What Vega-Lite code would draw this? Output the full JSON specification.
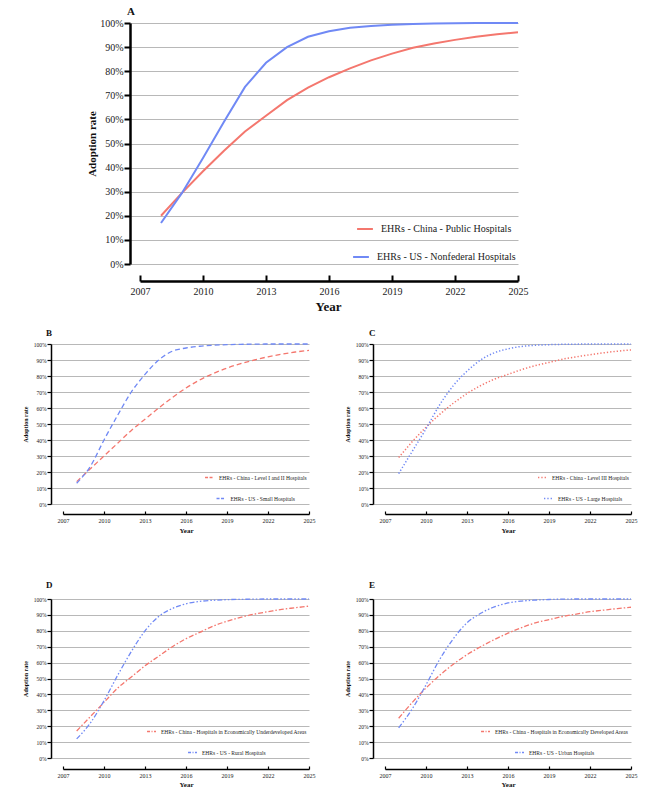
{
  "$schema": "https://vega.github.io/schema/vega-lite/v6.json",
  "padding": {"left": 21, "top": 6, "right": 5, "bottom": 5},
  "autosize": {"type": "pad"},
  "config": {
    "view": {"stroke": null},
    "style": {"guide-label": {"font": "Liberation Serif"}, "guide-title": {"font": "Liberation Serif"}, "group-title": {"font": "Liberation Serif"}},
    "axis": {"labelFont": "Liberation Serif", "titleFont": "Liberation Serif", "labelColor": "#222", "titleColor": "#111", "labelOverlap": false, "labelFlush": false, "domainColor": "#000", "tickColor": "#000", "gridColor": "#b8b8b8", "gridWidth": 1},
    "legend": {"labelFont": "Liberation Serif", "labelColor": "#222", "layout": {"bottom-right": {"direction": "vertical", "anchor": "end", "center": true, "margin": 10}}},
    "title": {"font": "Liberation Serif", "color": "#111"}
  },
  "datasets": {
    "a_cn": [
      {"series": "EHRs - China - Public Hospitals", "year": 2008, "rate": 0.20},
      {"series": "EHRs - China - Public Hospitals", "year": 2009, "rate": 0.295},
      {"series": "EHRs - China - Public Hospitals", "year": 2010, "rate": 0.385},
      {"series": "EHRs - China - Public Hospitals", "year": 2011, "rate": 0.47},
      {"series": "EHRs - China - Public Hospitals", "year": 2012, "rate": 0.55},
      {"series": "EHRs - China - Public Hospitals", "year": 2013, "rate": 0.615},
      {"series": "EHRs - China - Public Hospitals", "year": 2014, "rate": 0.68},
      {"series": "EHRs - China - Public Hospitals", "year": 2015, "rate": 0.732},
      {"series": "EHRs - China - Public Hospitals", "year": 2016, "rate": 0.775},
      {"series": "EHRs - China - Public Hospitals", "year": 2017, "rate": 0.812},
      {"series": "EHRs - China - Public Hospitals", "year": 2018, "rate": 0.845},
      {"series": "EHRs - China - Public Hospitals", "year": 2019, "rate": 0.873},
      {"series": "EHRs - China - Public Hospitals", "year": 2020, "rate": 0.897},
      {"series": "EHRs - China - Public Hospitals", "year": 2021, "rate": 0.915},
      {"series": "EHRs - China - Public Hospitals", "year": 2022, "rate": 0.93},
      {"series": "EHRs - China - Public Hospitals", "year": 2023, "rate": 0.943},
      {"series": "EHRs - China - Public Hospitals", "year": 2024, "rate": 0.953},
      {"series": "EHRs - China - Public Hospitals", "year": 2025, "rate": 0.962}
    ],
    "a_us": [
      {"series": "EHRs - US - Nonfederal Hospitals", "year": 2008, "rate": 0.17},
      {"series": "EHRs - US - Nonfederal Hospitals", "year": 2009, "rate": 0.295},
      {"series": "EHRs - US - Nonfederal Hospitals", "year": 2010, "rate": 0.44},
      {"series": "EHRs - US - Nonfederal Hospitals", "year": 2011, "rate": 0.59},
      {"series": "EHRs - US - Nonfederal Hospitals", "year": 2012, "rate": 0.735},
      {"series": "EHRs - US - Nonfederal Hospitals", "year": 2013, "rate": 0.835},
      {"series": "EHRs - US - Nonfederal Hospitals", "year": 2014, "rate": 0.90},
      {"series": "EHRs - US - Nonfederal Hospitals", "year": 2015, "rate": 0.943},
      {"series": "EHRs - US - Nonfederal Hospitals", "year": 2016, "rate": 0.966},
      {"series": "EHRs - US - Nonfederal Hospitals", "year": 2017, "rate": 0.98},
      {"series": "EHRs - US - Nonfederal Hospitals", "year": 2018, "rate": 0.988},
      {"series": "EHRs - US - Nonfederal Hospitals", "year": 2019, "rate": 0.993},
      {"series": "EHRs - US - Nonfederal Hospitals", "year": 2020, "rate": 0.996},
      {"series": "EHRs - US - Nonfederal Hospitals", "year": 2021, "rate": 0.998},
      {"series": "EHRs - US - Nonfederal Hospitals", "year": 2022, "rate": 0.999},
      {"series": "EHRs - US - Nonfederal Hospitals", "year": 2023, "rate": 1.0},
      {"series": "EHRs - US - Nonfederal Hospitals", "year": 2024, "rate": 1.0},
      {"series": "EHRs - US - Nonfederal Hospitals", "year": 2025, "rate": 1.0}
    ],
    "b_cn": [
      {"series": "EHRs - China - Level I and II Hospitals", "year": 2008, "rate": 0.14},
      {"series": "EHRs - China - Level I and II Hospitals", "year": 2009, "rate": 0.22},
      {"series": "EHRs - China - Level I and II Hospitals", "year": 2010, "rate": 0.30},
      {"series": "EHRs - China - Level I and II Hospitals", "year": 2011, "rate": 0.38},
      {"series": "EHRs - China - Level I and II Hospitals", "year": 2012, "rate": 0.46},
      {"series": "EHRs - China - Level I and II Hospitals", "year": 2013, "rate": 0.53},
      {"series": "EHRs - China - Level I and II Hospitals", "year": 2014, "rate": 0.60},
      {"series": "EHRs - China - Level I and II Hospitals", "year": 2015, "rate": 0.665},
      {"series": "EHRs - China - Level I and II Hospitals", "year": 2016, "rate": 0.725},
      {"series": "EHRs - China - Level I and II Hospitals", "year": 2017, "rate": 0.775},
      {"series": "EHRs - China - Level I and II Hospitals", "year": 2018, "rate": 0.815},
      {"series": "EHRs - China - Level I and II Hospitals", "year": 2019, "rate": 0.85},
      {"series": "EHRs - China - Level I and II Hospitals", "year": 2020, "rate": 0.877},
      {"series": "EHRs - China - Level I and II Hospitals", "year": 2021, "rate": 0.90},
      {"series": "EHRs - China - Level I and II Hospitals", "year": 2022, "rate": 0.92},
      {"series": "EHRs - China - Level I and II Hospitals", "year": 2023, "rate": 0.936},
      {"series": "EHRs - China - Level I and II Hospitals", "year": 2024, "rate": 0.95},
      {"series": "EHRs - China - Level I and II Hospitals", "year": 2025, "rate": 0.96}
    ],
    "b_us": [
      {"series": "EHRs - US - Small Hospitals", "year": 2008, "rate": 0.13},
      {"series": "EHRs - US - Small Hospitals", "year": 2009, "rate": 0.235},
      {"series": "EHRs - US - Small Hospitals", "year": 2010, "rate": 0.40},
      {"series": "EHRs - US - Small Hospitals", "year": 2011, "rate": 0.555},
      {"series": "EHRs - US - Small Hospitals", "year": 2012, "rate": 0.70},
      {"series": "EHRs - US - Small Hospitals", "year": 2013, "rate": 0.81},
      {"series": "EHRs - US - Small Hospitals", "year": 2014, "rate": 0.90},
      {"series": "EHRs - US - Small Hospitals", "year": 2015, "rate": 0.955},
      {"series": "EHRs - US - Small Hospitals", "year": 2016, "rate": 0.975},
      {"series": "EHRs - US - Small Hospitals", "year": 2017, "rate": 0.986},
      {"series": "EHRs - US - Small Hospitals", "year": 2018, "rate": 0.992},
      {"series": "EHRs - US - Small Hospitals", "year": 2019, "rate": 0.996},
      {"series": "EHRs - US - Small Hospitals", "year": 2020, "rate": 0.998},
      {"series": "EHRs - US - Small Hospitals", "year": 2021, "rate": 0.999},
      {"series": "EHRs - US - Small Hospitals", "year": 2022, "rate": 1.0},
      {"series": "EHRs - US - Small Hospitals", "year": 2023, "rate": 1.0},
      {"series": "EHRs - US - Small Hospitals", "year": 2024, "rate": 1.0},
      {"series": "EHRs - US - Small Hospitals", "year": 2025, "rate": 1.0}
    ],
    "c_cn": [
      {"series": "EHRs - China - Level III Hospitals", "year": 2008, "rate": 0.29},
      {"series": "EHRs - China - Level III Hospitals", "year": 2009, "rate": 0.39},
      {"series": "EHRs - China - Level III Hospitals", "year": 2010, "rate": 0.48},
      {"series": "EHRs - China - Level III Hospitals", "year": 2011, "rate": 0.56},
      {"series": "EHRs - China - Level III Hospitals", "year": 2012, "rate": 0.63},
      {"series": "EHRs - China - Level III Hospitals", "year": 2013, "rate": 0.69},
      {"series": "EHRs - China - Level III Hospitals", "year": 2014, "rate": 0.74},
      {"series": "EHRs - China - Level III Hospitals", "year": 2015, "rate": 0.78},
      {"series": "EHRs - China - Level III Hospitals", "year": 2016, "rate": 0.81},
      {"series": "EHRs - China - Level III Hospitals", "year": 2017, "rate": 0.84},
      {"series": "EHRs - China - Level III Hospitals", "year": 2018, "rate": 0.865},
      {"series": "EHRs - China - Level III Hospitals", "year": 2019, "rate": 0.885},
      {"series": "EHRs - China - Level III Hospitals", "year": 2020, "rate": 0.905},
      {"series": "EHRs - China - Level III Hospitals", "year": 2021, "rate": 0.92},
      {"series": "EHRs - China - Level III Hospitals", "year": 2022, "rate": 0.933},
      {"series": "EHRs - China - Level III Hospitals", "year": 2023, "rate": 0.945},
      {"series": "EHRs - China - Level III Hospitals", "year": 2024, "rate": 0.955},
      {"series": "EHRs - China - Level III Hospitals", "year": 2025, "rate": 0.963}
    ],
    "c_us": [
      {"series": "EHRs - US - Large Hospitals", "year": 2008, "rate": 0.19},
      {"series": "EHRs - US - Large Hospitals", "year": 2009, "rate": 0.33},
      {"series": "EHRs - US - Large Hospitals", "year": 2010, "rate": 0.47},
      {"series": "EHRs - US - Large Hospitals", "year": 2011, "rate": 0.62},
      {"series": "EHRs - US - Large Hospitals", "year": 2012, "rate": 0.74},
      {"series": "EHRs - US - Large Hospitals", "year": 2013, "rate": 0.83},
      {"series": "EHRs - US - Large Hospitals", "year": 2014, "rate": 0.90},
      {"series": "EHRs - US - Large Hospitals", "year": 2015, "rate": 0.945},
      {"series": "EHRs - US - Large Hospitals", "year": 2016, "rate": 0.97},
      {"series": "EHRs - US - Large Hospitals", "year": 2017, "rate": 0.985},
      {"series": "EHRs - US - Large Hospitals", "year": 2018, "rate": 0.992},
      {"series": "EHRs - US - Large Hospitals", "year": 2019, "rate": 0.996},
      {"series": "EHRs - US - Large Hospitals", "year": 2020, "rate": 0.998},
      {"series": "EHRs - US - Large Hospitals", "year": 2021, "rate": 0.999},
      {"series": "EHRs - US - Large Hospitals", "year": 2022, "rate": 1.0},
      {"series": "EHRs - US - Large Hospitals", "year": 2023, "rate": 1.0},
      {"series": "EHRs - US - Large Hospitals", "year": 2024, "rate": 1.0},
      {"series": "EHRs - US - Large Hospitals", "year": 2025, "rate": 1.0}
    ],
    "d_cn": [
      {"series": "EHRs - China - Hospitals in Economically Underdeveloped Areas", "year": 2008, "rate": 0.17},
      {"series": "EHRs - China - Hospitals in Economically Underdeveloped Areas", "year": 2009, "rate": 0.26},
      {"series": "EHRs - China - Hospitals in Economically Underdeveloped Areas", "year": 2010, "rate": 0.35},
      {"series": "EHRs - China - Hospitals in Economically Underdeveloped Areas", "year": 2011, "rate": 0.44},
      {"series": "EHRs - China - Hospitals in Economically Underdeveloped Areas", "year": 2012, "rate": 0.51},
      {"series": "EHRs - China - Hospitals in Economically Underdeveloped Areas", "year": 2013, "rate": 0.58},
      {"series": "EHRs - China - Hospitals in Economically Underdeveloped Areas", "year": 2014, "rate": 0.64},
      {"series": "EHRs - China - Hospitals in Economically Underdeveloped Areas", "year": 2015, "rate": 0.70},
      {"series": "EHRs - China - Hospitals in Economically Underdeveloped Areas", "year": 2016, "rate": 0.75},
      {"series": "EHRs - China - Hospitals in Economically Underdeveloped Areas", "year": 2017, "rate": 0.79},
      {"series": "EHRs - China - Hospitals in Economically Underdeveloped Areas", "year": 2018, "rate": 0.83},
      {"series": "EHRs - China - Hospitals in Economically Underdeveloped Areas", "year": 2019, "rate": 0.86},
      {"series": "EHRs - China - Hospitals in Economically Underdeveloped Areas", "year": 2020, "rate": 0.885},
      {"series": "EHRs - China - Hospitals in Economically Underdeveloped Areas", "year": 2021, "rate": 0.905},
      {"series": "EHRs - China - Hospitals in Economically Underdeveloped Areas", "year": 2022, "rate": 0.92},
      {"series": "EHRs - China - Hospitals in Economically Underdeveloped Areas", "year": 2023, "rate": 0.935},
      {"series": "EHRs - China - Hospitals in Economically Underdeveloped Areas", "year": 2024, "rate": 0.945},
      {"series": "EHRs - China - Hospitals in Economically Underdeveloped Areas", "year": 2025, "rate": 0.955}
    ],
    "d_us": [
      {"series": "EHRs - US - Rural Hospitals", "year": 2008, "rate": 0.12},
      {"series": "EHRs - US - Rural Hospitals", "year": 2009, "rate": 0.22},
      {"series": "EHRs - US - Rural Hospitals", "year": 2010, "rate": 0.36},
      {"series": "EHRs - US - Rural Hospitals", "year": 2011, "rate": 0.52},
      {"series": "EHRs - US - Rural Hospitals", "year": 2012, "rate": 0.67},
      {"series": "EHRs - US - Rural Hospitals", "year": 2013, "rate": 0.80},
      {"series": "EHRs - US - Rural Hospitals", "year": 2014, "rate": 0.89},
      {"series": "EHRs - US - Rural Hospitals", "year": 2015, "rate": 0.94},
      {"series": "EHRs - US - Rural Hospitals", "year": 2016, "rate": 0.97},
      {"series": "EHRs - US - Rural Hospitals", "year": 2017, "rate": 0.985},
      {"series": "EHRs - US - Rural Hospitals", "year": 2018, "rate": 0.992},
      {"series": "EHRs - US - Rural Hospitals", "year": 2019, "rate": 0.996},
      {"series": "EHRs - US - Rural Hospitals", "year": 2020, "rate": 0.998},
      {"series": "EHRs - US - Rural Hospitals", "year": 2021, "rate": 0.999},
      {"series": "EHRs - US - Rural Hospitals", "year": 2022, "rate": 1.0},
      {"series": "EHRs - US - Rural Hospitals", "year": 2023, "rate": 1.0},
      {"series": "EHRs - US - Rural Hospitals", "year": 2024, "rate": 1.0},
      {"series": "EHRs - US - Rural Hospitals", "year": 2025, "rate": 1.0}
    ],
    "e_cn": [
      {"series": "EHRs - China - Hospitals in Economically Developed Areas", "year": 2008, "rate": 0.25},
      {"series": "EHRs - China - Hospitals in Economically Developed Areas", "year": 2009, "rate": 0.35},
      {"series": "EHRs - China - Hospitals in Economically Developed Areas", "year": 2010, "rate": 0.44},
      {"series": "EHRs - China - Hospitals in Economically Developed Areas", "year": 2011, "rate": 0.52},
      {"series": "EHRs - China - Hospitals in Economically Developed Areas", "year": 2012, "rate": 0.59},
      {"series": "EHRs - China - Hospitals in Economically Developed Areas", "year": 2013, "rate": 0.65},
      {"series": "EHRs - China - Hospitals in Economically Developed Areas", "year": 2014, "rate": 0.70},
      {"series": "EHRs - China - Hospitals in Economically Developed Areas", "year": 2015, "rate": 0.745},
      {"series": "EHRs - China - Hospitals in Economically Developed Areas", "year": 2016, "rate": 0.785},
      {"series": "EHRs - China - Hospitals in Economically Developed Areas", "year": 2017, "rate": 0.82},
      {"series": "EHRs - China - Hospitals in Economically Developed Areas", "year": 2018, "rate": 0.85},
      {"series": "EHRs - China - Hospitals in Economically Developed Areas", "year": 2019, "rate": 0.87},
      {"series": "EHRs - China - Hospitals in Economically Developed Areas", "year": 2020, "rate": 0.89},
      {"series": "EHRs - China - Hospitals in Economically Developed Areas", "year": 2021, "rate": 0.905},
      {"series": "EHRs - China - Hospitals in Economically Developed Areas", "year": 2022, "rate": 0.92},
      {"series": "EHRs - China - Hospitals in Economically Developed Areas", "year": 2023, "rate": 0.93},
      {"series": "EHRs - China - Hospitals in Economically Developed Areas", "year": 2024, "rate": 0.94},
      {"series": "EHRs - China - Hospitals in Economically Developed Areas", "year": 2025, "rate": 0.948}
    ],
    "e_us": [
      {"series": "EHRs - US - Urban Hospitals", "year": 2008, "rate": 0.19},
      {"series": "EHRs - US - Urban Hospitals", "year": 2009, "rate": 0.31},
      {"series": "EHRs - US - Urban Hospitals", "year": 2010, "rate": 0.46},
      {"series": "EHRs - US - Urban Hospitals", "year": 2011, "rate": 0.62},
      {"series": "EHRs - US - Urban Hospitals", "year": 2012, "rate": 0.75},
      {"series": "EHRs - US - Urban Hospitals", "year": 2013, "rate": 0.85},
      {"series": "EHRs - US - Urban Hospitals", "year": 2014, "rate": 0.91},
      {"series": "EHRs - US - Urban Hospitals", "year": 2015, "rate": 0.95},
      {"series": "EHRs - US - Urban Hospitals", "year": 2016, "rate": 0.975},
      {"series": "EHRs - US - Urban Hospitals", "year": 2017, "rate": 0.987},
      {"series": "EHRs - US - Urban Hospitals", "year": 2018, "rate": 0.993},
      {"series": "EHRs - US - Urban Hospitals", "year": 2019, "rate": 0.997},
      {"series": "EHRs - US - Urban Hospitals", "year": 2020, "rate": 0.999},
      {"series": "EHRs - US - Urban Hospitals", "year": 2021, "rate": 1.0},
      {"series": "EHRs - US - Urban Hospitals", "year": 2022, "rate": 1.0},
      {"series": "EHRs - US - Urban Hospitals", "year": 2023, "rate": 1.0},
      {"series": "EHRs - US - Urban Hospitals", "year": 2024, "rate": 1.0},
      {"series": "EHRs - US - Urban Hospitals", "year": 2025, "rate": 1.0}
    ]
  },
  "columns": 1,
  "align": "none",
  "spacing": 15,
  "concat": [
    {
      "width": 467, "height": 241,
      "title": {"text": "A", "anchor": "start", "frame": "group", "offset": -10, "dx": 76, "fontSize": 11, "fontWeight": "bold", "baseline": "bottom", "font": "Liberation Serif"},
      "layer": [
        {"data": {"name": "a_cn"}, "mark": {"type": "line", "strokeWidth": 2},
          "encoding": {
            "x": {"field": "year", "type": "quantitative", "scale": {"domain": [2006.5238, 2025], "range": [79, 467], "nice": false, "zero": false}, "axis": null},
            "y": {"field": "rate", "type": "quantitative", "scale": {"domain": [0, 1], "nice": false},
              "axis": {"values": [0, 0.1, 0.2, 0.3, 0.4, 0.5, 0.6, 0.7, 0.8, 0.9, 1], "format": "%", "grid": true, "offset": -79, "domainWidth": 2.5, "tickWidth": 2, "tickSize": 6, "labelPadding": 1, "labelFontSize": 10, "labelFont": "Liberation Serif", "title": "Adoption rate", "titleFont": "Liberation Serif", "titleFontSize": 11, "titleFontWeight": "bold", "titleX": -33, "titleY": 120.5, "titleAngle": 270, "titleAlign": "center", "titleBaseline": "bottom"}},
            "color": {"field": "series", "type": "nominal", "scale": {"range": ["#F4776E"]},
              "legend": {"orient": "bottom-right", "title": null, "offset": 0, "padding": 2, "symbolType": "stroke", "symbolSize": 250, "symbolStrokeWidth": 2, "labelFont": "Liberation Serif", "labelFontSize": 10, "labelOffset": 7}}
          }},
        {"data": {"name": "a_us"}, "mark": {"type": "line", "strokeWidth": 2},
          "encoding": {
            "x": {"field": "year", "type": "quantitative", "scale": {"domain": [2007, 2025], "range": [89, 467], "nice": false, "zero": false},
              "axis": {"orient": "bottom", "values": [2007, 2010, 2013, 2016, 2019, 2022, 2025], "format": "d", "grid": false, "offset": 17, "domainWidth": 2.5, "tickWidth": 2, "tickSize": -6, "labelPadding": 11, "labelFontSize": 10, "labelFont": "Liberation Serif", "title": "Year", "titleFont": "Liberation Serif", "titleFontSize": 13, "titleFontWeight": "bold", "titleX": 277, "titleY": 19, "titleBaseline": "top", "titleAlign": "center"}},
            "y": {"field": "rate", "type": "quantitative", "scale": {"domain": [0, 1], "nice": false}, "axis": null},
            "color": {"field": "series", "type": "nominal", "scale": {"range": ["#7089F5"]},
              "legend": {"orient": "bottom-right", "title": null, "offset": 0, "padding": 2, "symbolType": "stroke", "symbolSize": 250, "symbolStrokeWidth": 2, "labelFont": "Liberation Serif", "labelFontSize": 10, "labelOffset": 7}}
          }}
      ],
      "resolve": {"scale": {"x": "independent", "y": "independent", "color": "independent"}, "axis": {"x": "independent", "y": "independent"}}
    },
    {
      "spacing": 28,
      "hconcat": [
        {
          "width": 258, "height": 160,
          "title": {"text": "B", "anchor": "start", "frame": "group", "offset": -5.5, "dx": -5, "fontSize": 9, "fontWeight": "bold", "baseline": "bottom", "font": "Liberation Serif"},
          "layer": [
            {"data": {"name": "b_cn"}, "mark": {"type": "line", "strokeWidth": 1.3, "strokeDash": [5, 3], "interpolate": "monotone"},
              "encoding": {
                "x": {"field": "year", "type": "quantitative", "scale": {"domain": [2006.122, 2025], "range": [0, 258], "nice": false, "zero": false}, "axis": null},
                "y": {"field": "rate", "type": "quantitative", "scale": {"domain": [0, 1], "nice": false},
                  "axis": {"values": [0, 0.1, 0.2, 0.3, 0.4, 0.5, 0.6, 0.7, 0.8, 0.9, 1], "format": "%", "grid": true, "domainWidth": 1.5, "tickWidth": 1.2, "tickSize": 4, "labelPadding": 1, "labelFontSize": 5.5, "labelFont": "Liberation Serif", "title": "Adoption rate", "titleFont": "Liberation Serif", "titleFontSize": 6, "titleFontWeight": "bold", "titleX": -23, "titleY": 80, "titleAngle": 270, "titleAlign": "center", "titleBaseline": "bottom", "minExtent": 30}},
                "color": {"field": "series", "type": "nominal", "scale": {"range": ["#F4776E"]},
                  "legend": {"orient": "bottom-right", "title": null, "offset": 1.5, "padding": 1, "symbolType": "stroke", "symbolSize": 80, "symbolStrokeWidth": 1.3, "symbolDash": [3, 1.5], "labelFont": "Liberation Serif", "labelFontSize": 5.5, "labelOffset": 4}}
              }},
            {"data": {"name": "b_us"}, "mark": {"type": "line", "strokeWidth": 1.3, "strokeDash": [5, 3], "interpolate": "monotone"},
              "encoding": {
                "x": {"field": "year", "type": "quantitative", "scale": {"domain": [2007, 2025], "range": [12, 258], "nice": false, "zero": false},
                  "axis": {"orient": "bottom", "values": [2007, 2010, 2013, 2016, 2019, 2022, 2025], "format": "d", "grid": false, "offset": 10, "domainWidth": 1.5, "tickWidth": 1.2, "tickSize": -3, "labelPadding": 6, "labelFontSize": 6, "labelFont": "Liberation Serif", "title": "Year", "titleFont": "Liberation Serif", "titleFontSize": 7, "titleFontWeight": "bold", "titleX": 135, "titleY": 12.5, "titleBaseline": "top", "titleAlign": "center", "minExtent": 52}},
                "y": {"field": "rate", "type": "quantitative", "scale": {"domain": [0, 1], "nice": false}, "axis": null},
                "color": {"field": "series", "type": "nominal", "scale": {"range": ["#7089F5"]},
                  "legend": {"orient": "bottom-right", "title": null, "offset": 1.5, "padding": 1, "symbolType": "stroke", "symbolSize": 80, "symbolStrokeWidth": 1.3, "symbolDash": [3, 1.5], "labelFont": "Liberation Serif", "labelFontSize": 5.5, "labelOffset": 4}}
              }}
          ],
          "resolve": {"scale": {"x": "independent", "y": "independent", "color": "independent"}, "axis": {"x": "independent", "y": "independent"}}
        },
        {
          "width": 258, "height": 160,
          "title": {"text": "C", "anchor": "start", "frame": "group", "offset": -5.5, "dx": -4, "fontSize": 9, "fontWeight": "bold", "baseline": "bottom", "font": "Liberation Serif"},
          "layer": [
            {"data": {"name": "c_cn"}, "mark": {"type": "line", "strokeWidth": 1.5, "strokeDash": [1.3, 2], "interpolate": "monotone"},
              "encoding": {
                "x": {"field": "year", "type": "quantitative", "scale": {"domain": [2006.122, 2025], "range": [0, 258], "nice": false, "zero": false}, "axis": null},
                "y": {"field": "rate", "type": "quantitative", "scale": {"domain": [0, 1], "nice": false},
                  "axis": {"values": [0, 0.1, 0.2, 0.3, 0.4, 0.5, 0.6, 0.7, 0.8, 0.9, 1], "format": "%", "grid": true, "domainWidth": 1.5, "tickWidth": 1.2, "tickSize": 4, "labelPadding": 1, "labelFontSize": 5.5, "labelFont": "Liberation Serif", "title": "Adoption rate", "titleFont": "Liberation Serif", "titleFontSize": 6, "titleFontWeight": "bold", "titleX": -23, "titleY": 80, "titleAngle": 270, "titleAlign": "center", "titleBaseline": "bottom", "minExtent": 30}},
                "color": {"field": "series", "type": "nominal", "scale": {"range": ["#F4776E"]},
                  "legend": {"orient": "bottom-right", "title": null, "offset": 1.5, "padding": 1, "symbolType": "stroke", "symbolSize": 80, "symbolStrokeWidth": 1.5, "symbolDash": [1.3, 2], "labelFont": "Liberation Serif", "labelFontSize": 5.5, "labelOffset": 4}}
              }},
            {"data": {"name": "c_us"}, "mark": {"type": "line", "strokeWidth": 1.5, "strokeDash": [1.3, 2], "interpolate": "monotone"},
              "encoding": {
                "x": {"field": "year", "type": "quantitative", "scale": {"domain": [2007, 2025], "range": [12, 258], "nice": false, "zero": false},
                  "axis": {"orient": "bottom", "values": [2007, 2010, 2013, 2016, 2019, 2022, 2025], "format": "d", "grid": false, "offset": 10, "domainWidth": 1.5, "tickWidth": 1.2, "tickSize": -3, "labelPadding": 6, "labelFontSize": 6, "labelFont": "Liberation Serif", "title": "Year", "titleFont": "Liberation Serif", "titleFontSize": 7, "titleFontWeight": "bold", "titleX": 135, "titleY": 12.5, "titleBaseline": "top", "titleAlign": "center", "minExtent": 52}},
                "y": {"field": "rate", "type": "quantitative", "scale": {"domain": [0, 1], "nice": false}, "axis": null},
                "color": {"field": "series", "type": "nominal", "scale": {"range": ["#7089F5"]},
                  "legend": {"orient": "bottom-right", "title": null, "offset": 1.5, "padding": 1, "symbolType": "stroke", "symbolSize": 80, "symbolStrokeWidth": 1.5, "symbolDash": [1.3, 2], "labelFont": "Liberation Serif", "labelFontSize": 5.5, "labelOffset": 4}}
              }}
          ],
          "resolve": {"scale": {"x": "independent", "y": "independent", "color": "independent"}, "axis": {"x": "independent", "y": "independent"}}
        }
      ]
    },
    {
      "spacing": 28,
      "hconcat": [
        {
          "width": 258, "height": 159,
          "title": {"text": "D", "anchor": "start", "frame": "group", "offset": -3, "dx": -5, "fontSize": 9, "fontWeight": "bold", "baseline": "bottom", "font": "Liberation Serif"},
          "layer": [
            {"data": {"name": "d_cn"}, "mark": {"type": "line", "strokeWidth": 1.3, "strokeDash": [5, 2, 1.5, 2], "interpolate": "monotone"},
              "encoding": {
                "x": {"field": "year", "type": "quantitative", "scale": {"domain": [2006.122, 2025], "range": [0, 258], "nice": false, "zero": false}, "axis": null},
                "y": {"field": "rate", "type": "quantitative", "scale": {"domain": [0, 1], "nice": false},
                  "axis": {"values": [0, 0.1, 0.2, 0.3, 0.4, 0.5, 0.6, 0.7, 0.8, 0.9, 1], "format": "%", "grid": true, "domainWidth": 1.5, "tickWidth": 1.2, "tickSize": 4, "labelPadding": 1, "labelFontSize": 5.5, "labelFont": "Liberation Serif", "title": "Adoption rate", "titleFont": "Liberation Serif", "titleFontSize": 6, "titleFontWeight": "bold", "titleX": -23, "titleY": 79.5, "titleAngle": 270, "titleAlign": "center", "titleBaseline": "bottom", "minExtent": 30}},
                "color": {"field": "series", "type": "nominal", "scale": {"range": ["#F4776E"]},
                  "legend": {"orient": "bottom-right", "title": null, "offset": 1.5, "padding": 1, "symbolType": "stroke", "symbolSize": 80, "symbolStrokeWidth": 1.3, "symbolDash": [3, 1.5, 1, 1.5], "labelFont": "Liberation Serif", "labelFontSize": 5.5, "labelOffset": 4}}
              }},
            {"data": {"name": "d_us"}, "mark": {"type": "line", "strokeWidth": 1.3, "strokeDash": [5, 2, 1.5, 2, 1.5, 2], "interpolate": "monotone"},
              "encoding": {
                "x": {"field": "year", "type": "quantitative", "scale": {"domain": [2007, 2025], "range": [12, 258], "nice": false, "zero": false},
                  "axis": {"orient": "bottom", "values": [2007, 2010, 2013, 2016, 2019, 2022, 2025], "format": "d", "grid": false, "offset": 11, "domainWidth": 1.5, "tickWidth": 1.2, "tickSize": -3, "labelPadding": 6, "labelFontSize": 6, "labelFont": "Liberation Serif", "title": "Year", "titleFont": "Liberation Serif", "titleFontSize": 7, "titleFontWeight": "bold", "titleX": 135, "titleY": 11.5, "titleBaseline": "top", "titleAlign": "center"}},
                "y": {"field": "rate", "type": "quantitative", "scale": {"domain": [0, 1], "nice": false}, "axis": null},
                "color": {"field": "series", "type": "nominal", "scale": {"range": ["#7089F5"]},
                  "legend": {"orient": "bottom-right", "title": null, "offset": 1.5, "padding": 1, "symbolType": "stroke", "symbolSize": 80, "symbolStrokeWidth": 1.3, "symbolDash": [3, 1.5, 1, 1.5], "labelFont": "Liberation Serif", "labelFontSize": 5.5, "labelOffset": 4}}
              }}
          ],
          "resolve": {"scale": {"x": "independent", "y": "independent", "color": "independent"}, "axis": {"x": "independent", "y": "independent"}}
        },
        {
          "width": 258, "height": 159,
          "title": {"text": "E", "anchor": "start", "frame": "group", "offset": -3, "dx": -4, "fontSize": 9, "fontWeight": "bold", "baseline": "bottom", "font": "Liberation Serif"},
          "layer": [
            {"data": {"name": "e_cn"}, "mark": {"type": "line", "strokeWidth": 1.3, "strokeDash": [5, 2, 1.5, 2], "interpolate": "monotone"},
              "encoding": {
                "x": {"field": "year", "type": "quantitative", "scale": {"domain": [2006.122, 2025], "range": [0, 258], "nice": false, "zero": false}, "axis": null},
                "y": {"field": "rate", "type": "quantitative", "scale": {"domain": [0, 1], "nice": false},
                  "axis": {"values": [0, 0.1, 0.2, 0.3, 0.4, 0.5, 0.6, 0.7, 0.8, 0.9, 1], "format": "%", "grid": true, "domainWidth": 1.5, "tickWidth": 1.2, "tickSize": 4, "labelPadding": 1, "labelFontSize": 5.5, "labelFont": "Liberation Serif", "title": "Adoption rate", "titleFont": "Liberation Serif", "titleFontSize": 6, "titleFontWeight": "bold", "titleX": -23, "titleY": 79.5, "titleAngle": 270, "titleAlign": "center", "titleBaseline": "bottom", "minExtent": 30}},
                "color": {"field": "series", "type": "nominal", "scale": {"range": ["#F4776E"]},
                  "legend": {"orient": "bottom-right", "title": null, "offset": 1.5, "padding": 1, "symbolType": "stroke", "symbolSize": 80, "symbolStrokeWidth": 1.3, "symbolDash": [3, 1.5, 1, 1.5], "labelFont": "Liberation Serif", "labelFontSize": 5.5, "labelOffset": 4}}
              }},
            {"data": {"name": "e_us"}, "mark": {"type": "line", "strokeWidth": 1.3, "strokeDash": [5, 2, 1.5, 2, 1.5, 2], "interpolate": "monotone"},
              "encoding": {
                "x": {"field": "year", "type": "quantitative", "scale": {"domain": [2007, 2025], "range": [12, 258], "nice": false, "zero": false},
                  "axis": {"orient": "bottom", "values": [2007, 2010, 2013, 2016, 2019, 2022, 2025], "format": "d", "grid": false, "offset": 11, "domainWidth": 1.5, "tickWidth": 1.2, "tickSize": -3, "labelPadding": 6, "labelFontSize": 6, "labelFont": "Liberation Serif", "title": "Year", "titleFont": "Liberation Serif", "titleFontSize": 7, "titleFontWeight": "bold", "titleX": 135, "titleY": 11.5, "titleBaseline": "top", "titleAlign": "center"}},
                "y": {"field": "rate", "type": "quantitative", "scale": {"domain": [0, 1], "nice": false}, "axis": null},
                "color": {"field": "series", "type": "nominal", "scale": {"range": ["#7089F5"]},
                  "legend": {"orient": "bottom-right", "title": null, "offset": 1.5, "padding": 1, "symbolType": "stroke", "symbolSize": 80, "symbolStrokeWidth": 1.3, "symbolDash": [3, 1.5, 1, 1.5], "labelFont": "Liberation Serif", "labelFontSize": 5.5, "labelOffset": 4}}
              }}
          ],
          "resolve": {"scale": {"x": "independent", "y": "independent", "color": "independent"}, "axis": {"x": "independent", "y": "independent"}}
        }
      ]
    }
  ]
}
